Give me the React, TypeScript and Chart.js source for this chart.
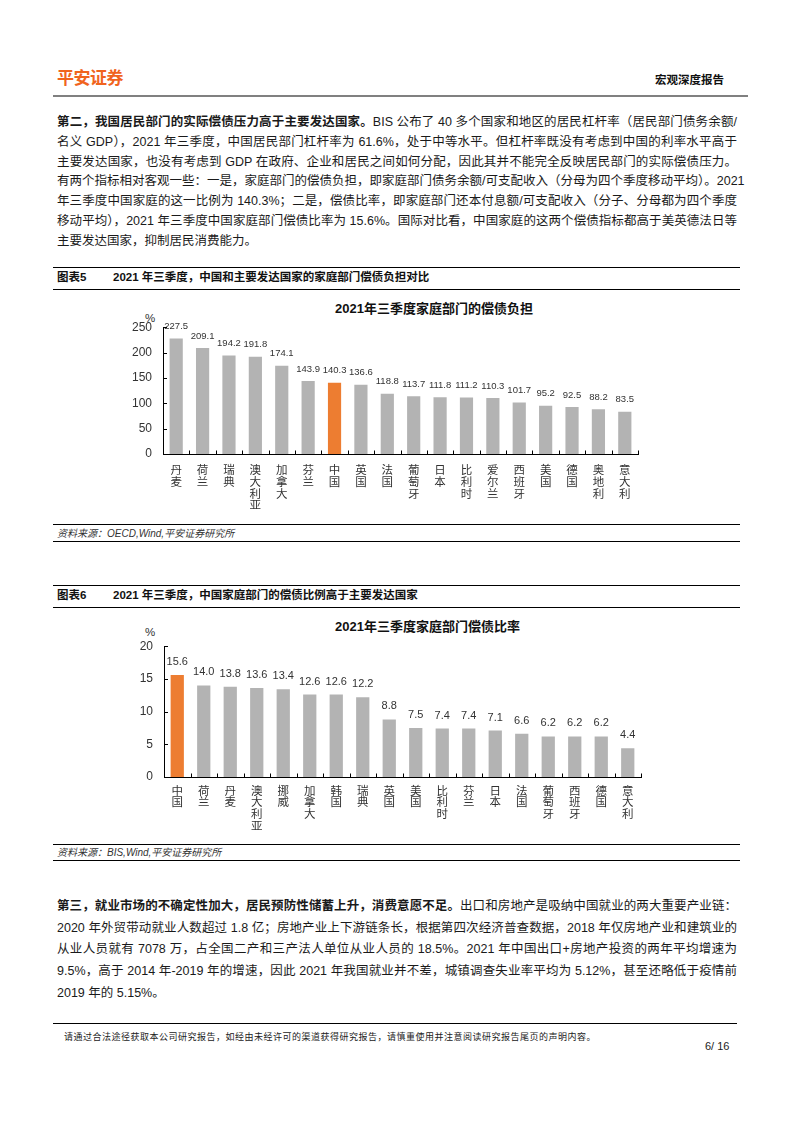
import React, { useEffect, useRef } from 'react';
import { Chart, registerables } from 'chart.js';

Chart.register(...registerables);

// ---------- data ----------
const burdenCategories = ['丹麦', '荷兰', '瑞典', '澳大利亚', '加拿大', '芬兰', '中国', '英国', '法国', '葡萄牙', '日本', '比利时', '爱尔兰', '西班牙', '美国', '德国', '奥地利', '意大利'];
const burdenValues = [227.5, 209.1, 194.2, 191.8, 174.1, 143.9, 140.3, 136.6, 118.8, 113.7, 111.8, 111.2, 110.3, 101.7, 95.2, 92.5, 88.2, 83.5];
const burdenAxisMax = 250;
const burdenAxisStep = 50;

const ratioCategories = ['中国', '荷兰', '丹麦', '澳大利亚', '挪威', '加拿大', '韩国', '瑞典', '英国', '美国', '比利时', '芬兰', '日本', '法国', '葡萄牙', '西班牙', '德国', '意大利'];
const ratioValues = [15.6, 14.0, 13.8, 13.6, 13.4, 12.6, 12.6, 12.2, 8.8, 7.5, 7.4, 7.4, 7.1, 6.6, 6.2, 6.2, 6.2, 4.4];
const ratioAxisMax = 20;
const ratioAxisStep = 5;

const highlightCategory = '中国';

const ORANGE = '#ED7D31';
const GRAY = '#B3B3B3';
const LATIN = '"Liberation Sans", Arial, "Noto Sans CJK SC", sans-serif';
const CJK = '"Noto Sans CJK SC", "Liberation Sans", sans-serif';

// ---------- plugins ----------
const valueLabels = {
  id: 'valueLabels',
  afterDatasetsDraw(chart: any, _args: any, opts: any) {
    const { ctx } = chart;
    const meta = chart.getDatasetMeta(0);
    const data = chart.data.datasets[0].data;
    ctx.save();
    ctx.font = opts.font;
    ctx.fillStyle = opts.color;
    ctx.textAlign = 'center';
    ctx.textBaseline = 'middle';
    meta.data.forEach((bar: any, i: number) => {
      ctx.fillText(Number(data[i]).toFixed(1), bar.x, bar.y - opts.offset);
    });
    ctx.restore();
  },
};

const inwardTicks = {
  id: 'inwardTicks',
  afterDraw(chart: any) {
    const { ctx } = chart;
    const xs = chart.scales.x;
    const ys = chart.scales.y;
    ctx.save();
    ctx.strokeStyle = '#000';
    ctx.lineWidth = 1;
    ctx.beginPath();
    const n = xs.ticks.length;
    const step = (xs.right - xs.left) / n;
    for (let i = 1; i <= n; i++) {
      const px = Math.round(xs.left + i * step) + 0.5;
      ctx.moveTo(px, Math.round(xs.top) + 0.5);
      ctx.lineTo(px, Math.round(xs.top) - 3.5);
    }
    ys.ticks.forEach((t: any) => {
      const py = Math.round(ys.getPixelForValue(t.value)) + 0.5;
      ctx.moveTo(Math.round(ys.right), py);
      ctx.lineTo(Math.round(ys.right) + 4, py);
    });
    ctx.stroke();
    ctx.restore();
  },
};

type BarProps = {
  categories: string[];
  values: number[];
  max: number;
  step: number;
  areaLeft: number;
  areaRight: number;
  areaTop: number;
  areaBottom: number;
  xHeight: number;
  xPad: number;
  valueFont: string;
  valueOffset: number;
};

function BarChart(p: BarProps) {
  const ref = useRef<HTMLCanvasElement | null>(null);
  useEffect(() => {
    const canvas = ref.current;
    if (!canvas) return;
    const config = (): any => ({
      type: 'bar',
      data: {
        labels: p.categories.map((c) => c.split('')),
        datasets: [
          {
            data: p.values,
            backgroundColor: p.categories.map((c) => (c === highlightCategory ? ORANGE : GRAY)),
            borderWidth: 0,
            categoryPercentage: 1,
            barPercentage: 0.5,
          },
        ],
      },
      options: {
        responsive: false,
        maintainAspectRatio: false,
        animation: false,
        devicePixelRatio: 1,
        layout: { padding: { top: 4, right: 16, left: 0, bottom: 0 } },
        plugins: {
          legend: { display: false },
          tooltip: { enabled: false },
          title: { display: false },
          valueLabels: { font: p.valueFont, color: '#333', offset: p.valueOffset },
        },
        scales: {
          x: {
            grid: { display: false, drawTicks: false },
            border: { display: true, color: '#000', width: 1 },
            ticks: {
              color: '#333',
              autoSkip: false,
              maxRotation: 0,
              minRotation: 0,
              padding: p.xPad,
              font: { family: CJK, size: 11.5, lineHeight: 1.02 },
            },
            afterFit: (s: any) => {
              s.height = p.xHeight;
            },
          },
          y: {
            min: 0,
            max: p.max,
            grid: { display: false, drawTicks: false },
            border: { display: true, color: '#000', width: 1 },
            ticks: {
              stepSize: p.step,
              color: '#333',
              padding: 11,
              font: { family: LATIN, size: 12 },
            },
            afterFit: (s: any) => {
              s.width = 60;
            },
          },
        },
      },
      plugins: [valueLabels, inwardTicks],
    });

    const setSize = (w: number, h: number) => {
      canvas.width = w;
      canvas.height = h;
      canvas.style.width = w + 'px';
      canvas.style.height = h + 'px';
    };

    // first pass: measure where the library places the plot area
    setSize(600, 240);
    let chart: any = new Chart(canvas, config());
    const a = chart.chartArea;
    const w = Math.round(600 - (a.right - a.left) + (p.areaRight - p.areaLeft));
    const h = Math.round(240 - (a.bottom - a.top) + (p.areaBottom - p.areaTop));
    const offTop = a.top;
    const offLeft = a.left;
    chart.destroy();

    // second pass: exact size, positioned so the plot area lands where wanted
    setSize(w, h);
    chart = new Chart(canvas, config());
    canvas.style.left = p.areaLeft - offLeft + 'px';
    canvas.style.top = p.areaTop - offTop + 'px';
    return () => chart.destroy();
  }, []);
  return <canvas ref={ref} style={{ position: 'absolute' }} />;
}

// ---------- text helpers ----------
function Line({ y, children, last }: { y: number; children: any; last?: boolean }) {
  return (
    <div
      style={{
        position: 'absolute',
        left: 57,
        width: 680,
        top: y - 9,
        height: 18,
        lineHeight: '18px',
        fontSize: 12.5,
        whiteSpace: 'nowrap',
        textAlign: last ? 'left' : 'justify',
        textAlignLast: last ? 'left' : 'justify',
        color: '#1a1a1a',
      } as any}
    >
      {children}
    </div>
  );
}

function HRule({ y, x1, x2, h, color }: { y: number; x1: number; x2: number; h?: number; color?: string }) {
  return (
    <div
      style={{ position: 'absolute', left: x1, width: x2 - x1, top: y, height: h || 1, background: color || '#000' }}
    />
  );
}

function Abs({ x, y, size, bold, italic, color, children, family, spacing }: any) {
  return (
    <div
      style={{
        position: 'absolute',
        left: x,
        top: y - size * 0.75,
        height: size * 1.5,
        lineHeight: `${size * 1.5}px`,
        fontSize: size,
        fontWeight: bold ? 700 : 400,
        fontStyle: italic ? 'italic' : 'normal',
        color: color || '#1a1a1a',
        whiteSpace: 'nowrap',
        fontFamily: family || LATIN,
        letterSpacing: spacing || 0,
      }}
    >
      {children}
    </div>
  );
}

const P1 = 122;
const P1S = 19.8;
const P3 = 906;
const P3S = 21.7;

export default function App() {
  return (
    <div
      style={{
        position: 'absolute',
        left: 0,
        top: 0,
        width: 794,
        height: 1123,
        background: '#fff',
        fontFamily: LATIN,
        overflow: 'hidden',
      }}
    >
      {/* header */}
      <Abs x={57} y={77} size={17} bold color="#F0641E" spacing="-0.5px" family={CJK}>
        平安证券
      </Abs>
      <Abs x={655} y={80} size={11.5} bold color="#111" family={CJK}>
        宏观深度报告
      </Abs>
      <HRule y={95} x1={53} x2={748} h={2} color="#808080" />

      {/* paragraph 1 */}
      <Line y={P1}>
        <b>第二，我国居民部门的实际偿债压力高于主要发达国家。</b>BIS 公布了 40 多个国家和地区的居民杠杆率（居民部门债务余额/
      </Line>
      <Line y={P1 + P1S}>名义 GDP），2021 年三季度，中国居民部门杠杆率为 61.6%，处于中等水平。但杠杆率既没有考虑到中国的利率水平高于</Line>
      <Line y={P1 + P1S * 2}>主要发达国家，也没有考虑到 GDP 在政府、企业和居民之间如何分配，因此其并不能完全反映居民部门的实际偿债压力。</Line>
      <Line y={P1 + P1S * 3}>有两个指标相对客观一些：一是，家庭部门的偿债负担，即家庭部门债务余额/可支配收入（分母为四个季度移动平均）。2021</Line>
      <Line y={P1 + P1S * 4}>年三季度中国家庭的这一比例为 140.3%；二是，偿债比率，即家庭部门还本付息额/可支配收入（分子、分母都为四个季度</Line>
      <Line y={P1 + P1S * 5}>移动平均），2021 年三季度中国家庭部门偿债比率为 15.6%。国际对比看，中国家庭的这两个偿债指标都高于美英德法日等</Line>
      <Line y={P1 + P1S * 6} last>
        主要发达国家，抑制居民消费能力。
      </Line>

      {/* figure 5 */}
      <HRule y={267} x1={53} x2={740} />
      <Abs x={57} y={277.5} size={11.5} bold color="#111">
        图表5
      </Abs>
      <Abs x={113} y={277.5} size={11.5} bold color="#111">
        2021 年三季度，中国和主要发达国家的家庭部门偿债负担对比
      </Abs>
      <HRule y={289} x1={53} x2={740} />
      <Abs x={335} y={309} size={13} bold color="#111">
        2021年三季度家庭部门的偿债负担
      </Abs>
      <Abs x={145} y={319} size={11.5} color="#333">
        %
      </Abs>
      <BarChart
        categories={burdenCategories}
        values={burdenValues}
        max={burdenAxisMax}
        step={burdenAxisStep}
        areaLeft={163}
        areaRight={638}
        areaTop={327}
        areaBottom={454}
        xHeight={66}
        xPad={10}
        valueFont={'9.5px "Liberation Sans", Arial, sans-serif'}
        valueOffset={12}
      />
      <HRule y={524} x1={53} x2={740} />
      <Abs x={57} y={533} size={10} italic color="#333">
        资料来源：OECD,Wind,平安证券研究所
      </Abs>
      <HRule y={541} x1={53} x2={740} />

      {/* figure 6 */}
      <HRule y={585} x1={53} x2={740} />
      <Abs x={57} y={596} size={11.5} bold color="#111">
        图表6
      </Abs>
      <Abs x={113} y={596} size={11.5} bold color="#111">
        2021 年三季度，中国家庭部门的偿债比例高于主要发达国家
      </Abs>
      <HRule y={607} x1={53} x2={740} />
      <Abs x={335} y={627} size={13} bold color="#111">
        2021年三季度家庭部门偿债比率
      </Abs>
      <Abs x={145} y={633} size={11.5} color="#333">
        %
      </Abs>
      <BarChart
        categories={ratioCategories}
        values={ratioValues}
        max={ratioAxisMax}
        step={ratioAxisStep}
        areaLeft={164}
        areaRight={641}
        areaTop={646}
        areaBottom={777}
        xHeight={64}
        xPad={7.5}
        valueFont={'11px "Liberation Sans", Arial, sans-serif'}
        valueOffset={13}
      />
      <HRule y={844} x1={53} x2={740} />
      <Abs x={57} y={852} size={10} italic color="#333">
        资料来源：BIS,Wind,平安证券研究所
      </Abs>
      <HRule y={860} x1={53} x2={740} />

      {/* paragraph 3 */}
      <Line y={P3}>
        <b>第三，就业市场的不确定性加大，居民预防性储蓄上升，消费意愿不足。</b>出口和房地产是吸纳中国就业的两大重要产业链：
      </Line>
      <Line y={P3 + P3S}>2020 年外贸带动就业人数超过 1.8 亿；房地产业上下游链条长，根据第四次经济普查数据，2018 年仅房地产业和建筑业的</Line>
      <Line y={P3 + P3S * 2}>从业人员就有 7078 万，占全国二产和三产法人单位从业人员的 18.5%。2021 年中国出口+房地产投资的两年平均增速为</Line>
      <Line y={P3 + P3S * 3}>9.5%，高于 2014 年-2019 年的增速，因此 2021 年我国就业并不差，城镇调查失业率平均为 5.12%，甚至还略低于疫情前</Line>
      <Line y={P3 + P3S * 4} last>
        2019 年的 5.15%。
      </Line>

      {/* footer */}
      <HRule y={1023} x1={53} x2={737} />
      <Abs x={64} y={1038} size={9} color="#222" spacing="0.5px">
        请通过合法途径获取本公司研究报告，如经由未经许可的渠道获得研究报告，请慎重使用并注意阅读研究报告尾页的声明内容。
      </Abs>
      <Abs x={705} y={1046} size={11} color="#222">
        6/ 16
      </Abs>
    </div>
  );
}
